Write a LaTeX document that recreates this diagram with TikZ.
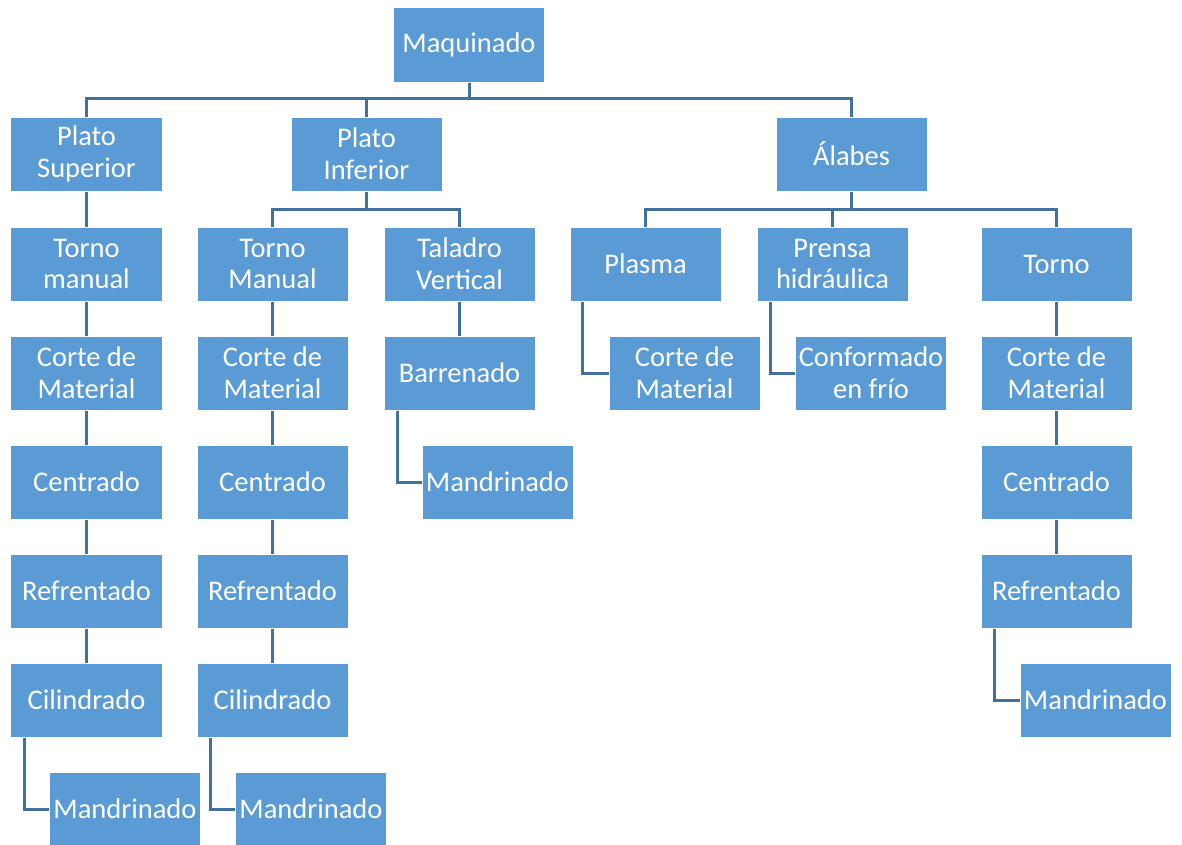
\documentclass[tikz,border=0pt]{standalone}
\usepackage{fontspec}
\setmainfont{Carlito}
\definecolor{boxfill}{HTML}{5B9BD5}
\definecolor{linecol}{HTML}{41719C}
\begin{document}
\begin{tikzpicture}[x=1bp,y=-1bp,
  box/.style={fill=boxfill,draw=white,line width=1bp,minimum width=151bp,minimum height=74bp,
    inner sep=0pt,align=center,text=white,font=\fontsize{28.6}{31.8}\selectfont},
  conn/.style={draw=linecol,line width=3bp}]
\useasboundingbox (0,0) rectangle (1182,845);
% level 0/1
\node[box] (maq) at (469,45) {Maquinado};
\node[box] (ps) at (86.5,154) {Plato\\Superior};
\node[box] (pi) at (366.5,154) {Plato\\Inferior};
\node[box] (al) at (851.5,154) {Álabes};
% level 2
\node[box] (tm1) at (86.5,264) {Torno\\manual};
\node[box] (tm2) at (272.5,264) {Torno\\Manual};
\node[box] (tv) at (459.5,264) {Taladro\\Vertical};
\node[box] (pl) at (645.5,264) {Plasma};
\node[box] (ph) at (832.5,264) {Prensa\\hidráulica};
\node[box] (to) at (1056.5,264) {Torno};
% level 3
\node[box] (cm1) at (86.5,373) {Corte de\\Material};
\node[box] (cm2) at (272.5,373) {Corte de\\Material};
\node[box] (ba) at (459.5,373) {Barrenado};
\node[box] (cm3) at (684.5,373) {Corte de\\Material};
\node[box] (cf) at (871,373) {Conformado\\en frío};
\node[box] (cm4) at (1056.5,373) {Corte de\\Material};
% level 4
\node[box] (ce1) at (86.5,482) {Centrado};
\node[box] (ce2) at (272.5,482) {Centrado};
\node[box] (ma3) at (497.5,482) {Mandrinado};
\node[box] (ce4) at (1056.5,482) {Centrado};
% level 5
\node[box] (re1) at (86.5,591) {Refrentado};
\node[box] (re2) at (272.5,591) {Refrentado};
\node[box] (re4) at (1056.5,591) {Refrentado};
% level 6
\node[box] (ci1) at (86.5,700) {Cilindrado};
\node[box] (ci2) at (272.5,700) {Cilindrado};
\node[box] (ma4) at (1095.5,700) {Mandrinado};
% level 7
\node[box] (ma1) at (125,809) {Mandrinado};
\node[box] (ma2) at (311,809) {Mandrinado};
% connectors
\begin{scope}[on background layer/.style={}]
\draw[conn] (maq.south) -- ++(0,16) coordinate (b0);
\draw[conn] (ps.north) |- (b0) -| (pi.north);
\draw[conn] (b0) -| (al.north);
\draw[conn] (pi.south) -- ++(0,18) coordinate (b1);
\draw[conn] (tm2.north) |- (b1) -| (tv.north);
\draw[conn] (al.south) -- ++(0,18) coordinate (b2);
\draw[conn] (pl.north) |- (b2) -| (to.north);
\draw[conn] (b2) -| (ph.north);
\draw[conn] (ps.south) -- (tm1.north);
\draw[conn] (tm1.south) -- (cm1.north);
\draw[conn] (cm1.south) -- (ce1.north);
\draw[conn] (ce1.south) -- (re1.north);
\draw[conn] (re1.south) -- (ci1.north);
\draw[conn] ([xshift=14bp]ci1.south west) |- (ma1.west);
\draw[conn] (tm2.south) -- (cm2.north);
\draw[conn] (cm2.south) -- (ce2.north);
\draw[conn] (ce2.south) -- (re2.north);
\draw[conn] (re2.south) -- (ci2.north);
\draw[conn] ([xshift=14bp]ci2.south west) |- (ma2.west);
\draw[conn] (tv.south) -- (ba.north);
\draw[conn] ([xshift=14bp]ba.south west) |- (ma3.west);
\draw[conn] ([xshift=13bp]pl.south west) |- (cm3.west);
\draw[conn] ([xshift=14bp]ph.south west) |- (cf.west);
\draw[conn] (to.south) -- (cm4.north);
\draw[conn] (cm4.south) -- (ce4.north);
\draw[conn] (ce4.south) -- (re4.north);
\draw[conn] ([xshift=14bp]re4.south west) |- (ma4.west);
\end{scope}
\end{tikzpicture}
\end{document}
